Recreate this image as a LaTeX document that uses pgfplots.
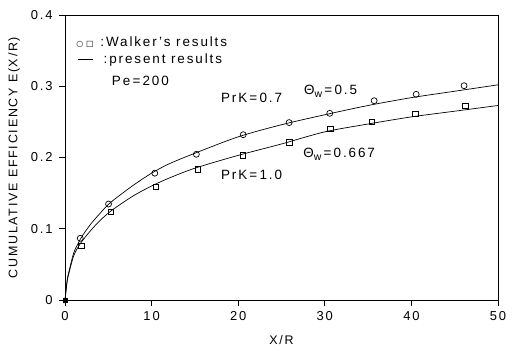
\documentclass[border=0pt]{standalone}
\usepackage{pgfplots}
\pgfplotsset{compat=1.18}
\usepackage{fontspec}
\setmainfont[LetterSpace=14]{Liberation Sans}
\newfontfamily\symfont{DejaVu Sans}
\newcommand{\sub}[1]{\raisebox{-0.45ex}{\fontsize{10.5}{12}\selectfont #1}}
\newcommand{\eq}{\,=\,}
\tikzset{note/.style={anchor=west, inner sep=0pt, font=\fontsize{13.5}{15}\selectfont}}

\begin{document}
\begin{tikzpicture}
\begin{axis}[
  scale only axis,
  width=433bp, height=285bp,
  xmin=0, xmax=50, ymin=0, ymax=0.4,
  xtick={0,10,20,30,40,50},
  ytick={0,0.1,0.2,0.3,0.4},
  yticklabels={0,0.1,0.2,0.3,0.4},
  tick align=outside, tick pos=left,
  major tick length=6bp,
  axis line style={line width=0.8pt},
  tick style={line width=0.8pt, black},
  /pgf/number format/assume math mode=true,
  ticklabel style={font=\fontsize{13}{15}\selectfont},
  yticklabel style={xshift=-3bp},
  xticklabel style={yshift=-2bp},
  xlabel={X/R},
  ylabel={CUMULATIVE EFFICIENCY E(X/R)},
  label style={font=\fontsize{12.5}{14}\selectfont},
  xlabel style={yshift=-8bp},
  ylabel style={yshift=4bp},
  clip=false,
]
% Walker's results, Theta_w = 0.5, PrK = 0.7
\addplot[only marks, mark=o, mark size=3pt, mark options={line width=0.7pt}] coordinates {
  (1.76,0.0866) (5.03,0.1347) (10.37,0.178) (15.17,0.2045) (20.58,0.232)
  (25.88,0.249) (30.57,0.262) (35.70,0.2797) (40.55,0.2887) (46.08,0.3008)
};
% Walker's results, Theta_w = 0.667, PrK = 1.0
\addplot[only marks, mark=square, mark size=2.8pt, mark options={line width=0.7pt}] coordinates {
  (1.92,0.0758) (5.30,0.124) (10.48,0.159) (15.32,0.183) (20.55,0.203)
  (25.88,0.221) (30.65,0.240) (35.45,0.2498) (40.48,0.261) (46.20,0.2727)
};
% present results
\addplot[line width=0.7pt, smooth, tension=0.5] coordinates {
  (0,0) (0.25,0.028) (0.5,0.042) (1,0.066) (1.5,0.079) (2,0.090) (3,0.107)
  (4,0.121) (5,0.134) (6,0.144) (8,0.162) (10,0.178) (12,0.191) (15,0.206)
  (20,0.229) (25,0.246) (30,0.260) (35,0.273) (40,0.284) (45,0.293) (50,0.302)
};
\addplot[line width=0.7pt, smooth, tension=0.5] coordinates {
  (0,0) (0.25,0.026) (0.5,0.040) (1,0.062) (1.5,0.074) (2,0.083) (3,0.098)
  (4,0.111) (5,0.122) (6,0.131) (8,0.147) (10,0.160) (12,0.171) (15,0.185)
  (20,0.203) (25,0.219) (30,0.236) (35,0.247) (40,0.257) (45,0.265) (50,0.273)
};
% origin
\addplot[only marks, mark=square*, mark size=2.2pt] coordinates {(0,0)};

\node[note] at (axis cs:1.3,0.362)
  {{\symfont\fontsize{8}{10}\selectfont ○\hspace{0.35em}□}\hspace{0.5em}:Walker's results};
\node[note] at (axis cs:1.5,0.337)
  {\rule[0.3em]{1.1em}{0.6pt}\hspace{0.8em}:present results};
\node[note] at (axis cs:5.4,0.308) {Pe\eq 200};
\node[note] at (axis cs:18.0,0.283) {PrK\eq 0.7};
\node[note] at (axis cs:27.6,0.293) {Θ\sub{w}\eq 0.5};
\node[note] at (axis cs:27.5,0.205) {Θ\sub{w}\eq 0.667};
\node[note] at (axis cs:18.0,0.176) {PrK\eq 1.0};
\end{axis}
\pgfresetboundingbox
\path ([shift={(-65bp,-51bp)}]current axis.south west) rectangle ([shift={(17bp,15bp)}]current axis.north east);
\end{tikzpicture}
\end{document}
